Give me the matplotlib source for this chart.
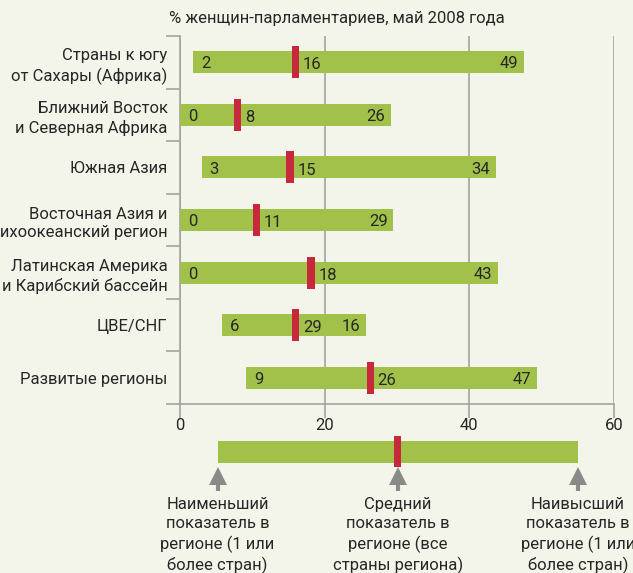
import matplotlib.pyplot as plt

# regions and min / average / max share of women in parliament (bar geometry)
regions = ["Страны к югу\nот Сахары (Африка)",
           "Ближний Восток\nи Северная Африка",
           "Южная Азия",
           "Восточная Азия и\nТихоокеанский регион",
           "Латинская Америка\nи Карибский бассейн",
           "ЦВЕ/СНГ",
           "Развитые регионы"]
min_vals = [1.8, 0, 3.0, 0, 0, 5.8, 9.1]
avg_vals = [16.0, 8.0, 15.2, 10.6, 18.1, 16.0, 26.3]
max_vals = [47.6, 29.2, 43.7, 29.5, 43.9, 25.7, 49.3]

# numbers printed on the bars
min_text = ["2", "0", "3", "0", "0", "6", "9"]
avg_text = ["16", "8", "15", "11", "18", "29", "26"]
max_text = ["49", "26", "34", "29", "43", "16", "47"]

xticks = [0, 20, 40, 60]

# key below the chart
key_pos = [5.2, 30.1, 55.0]
key_text = ["Наименьший\nпоказатель в\nрегионе (1 или\nболее стран)",
            "Средний\nпоказатель в\nрегионе (все\nстраны региона)",
            "Наивысший\nпоказатель в\nрегионе (1 или\nболее стран)"]

BG = "#f4f5ea"
GREEN = "#a2c14a"
RED = "#c8283c"
GRAY = "#a3a3a3"
TXT = "#262626"

plt.rcParams['font.family'] = ['Roboto', 'DejaVu Sans']
FS = 12
LS = 1.33

W, H = 633, 573
fig = plt.figure(figsize=(W / 100, H / 100), dpi=100, facecolor=BG)

x0, x1 = 180 / W, 614 / W
top, bot = 36, 404
ax = fig.add_axes([x0, 1 - bot / H, x1 - x0, (bot - top) / H])
ax.set_facecolor(BG)

n = len(regions)
ys = list(range(n))
for y, lo, av, hi, t0, t1, t2 in zip(ys, min_vals, avg_vals, max_vals,
                                     min_text, avg_text, max_text):
    ax.barh(y, hi - lo, left=lo, height=0.42, color=GREEN, zorder=3)
    ax.barh(y, 1.0, left=av - 0.5, height=0.61, color=RED, zorder=4)
    ax.text(lo + 1.1, y + 0.03, t0, ha='left', va='center', fontsize=FS,
            color=TXT, zorder=5)
    ax.text(av + 1.0, y + 0.05, t1, ha='left', va='center', fontsize=FS,
            color=TXT, zorder=5)
    ax.text(hi - 0.8, y + 0.03, t2, ha='right', va='center', fontsize=FS,
            color=TXT, zorder=5)

ax.set_xlim(0, 60)
ax.set_ylim(n - 0.5, -0.5)
ax.set_xticks(xticks)
ax.set_xticklabels([str(v) for v in xticks], fontsize=FS, color=TXT)
ax.tick_params(axis='x', length=10, width=1.2, color=GRAY, pad=0)
ax.grid(axis='x', color=GRAY, linewidth=1.2, zorder=1)

# category boundaries as ticks, names as minor tick labels
ax.set_yticks([i - 0.5 for i in range(n + 1)])
ax.set_yticklabels([])
ax.tick_params(axis='y', which='major', length=10, width=1.2, color=GRAY)
ax.set_yticks(ys, minor=True)
ax.set_yticklabels(regions, minor=True, fontsize=FS, color=TXT,
                   linespacing=LS)
ax.tick_params(axis='y', which='minor', length=0, pad=9)

for s in ['top', 'right']:
    ax.spines[s].set_visible(False)
for s in ['left', 'bottom']:
    ax.spines[s].set_color(GRAY)
    ax.spines[s].set_linewidth(1.2)

fig.text(337 / W, 1 - 18 / H, "% женщин-парламентариев, май 2008 года",
         ha='center', va='center', fontsize=FS, color=TXT)

# key
kax = fig.add_axes([x0, 0, x1 - x0, (H - 430) / H])
kax.set_xlim(0, 60)
kax.set_ylim(H - 430, 0)
kax.axis('off')
kax.barh(22, key_pos[2] - key_pos[0], left=key_pos[0], height=22,
         color=GREEN)
kax.barh(21.5, 1.0, left=key_pos[1] - 0.5, height=31, color=RED)
for x, t in zip(key_pos, key_text):
    kax.plot([x, x], [50, 61], color='#8a8a8a', linewidth=3,
             solid_capstyle='butt')
    kax.plot(x, 46, marker='^', markersize=13, color='#8a8a8a',
             markeredgewidth=0)
    kax.text(x, 67, t, ha='center', va='top', fontsize=FS, color=TXT,
             linespacing=LS, clip_on=False)

fig.savefig("out.png", dpi=100, facecolor=BG)
